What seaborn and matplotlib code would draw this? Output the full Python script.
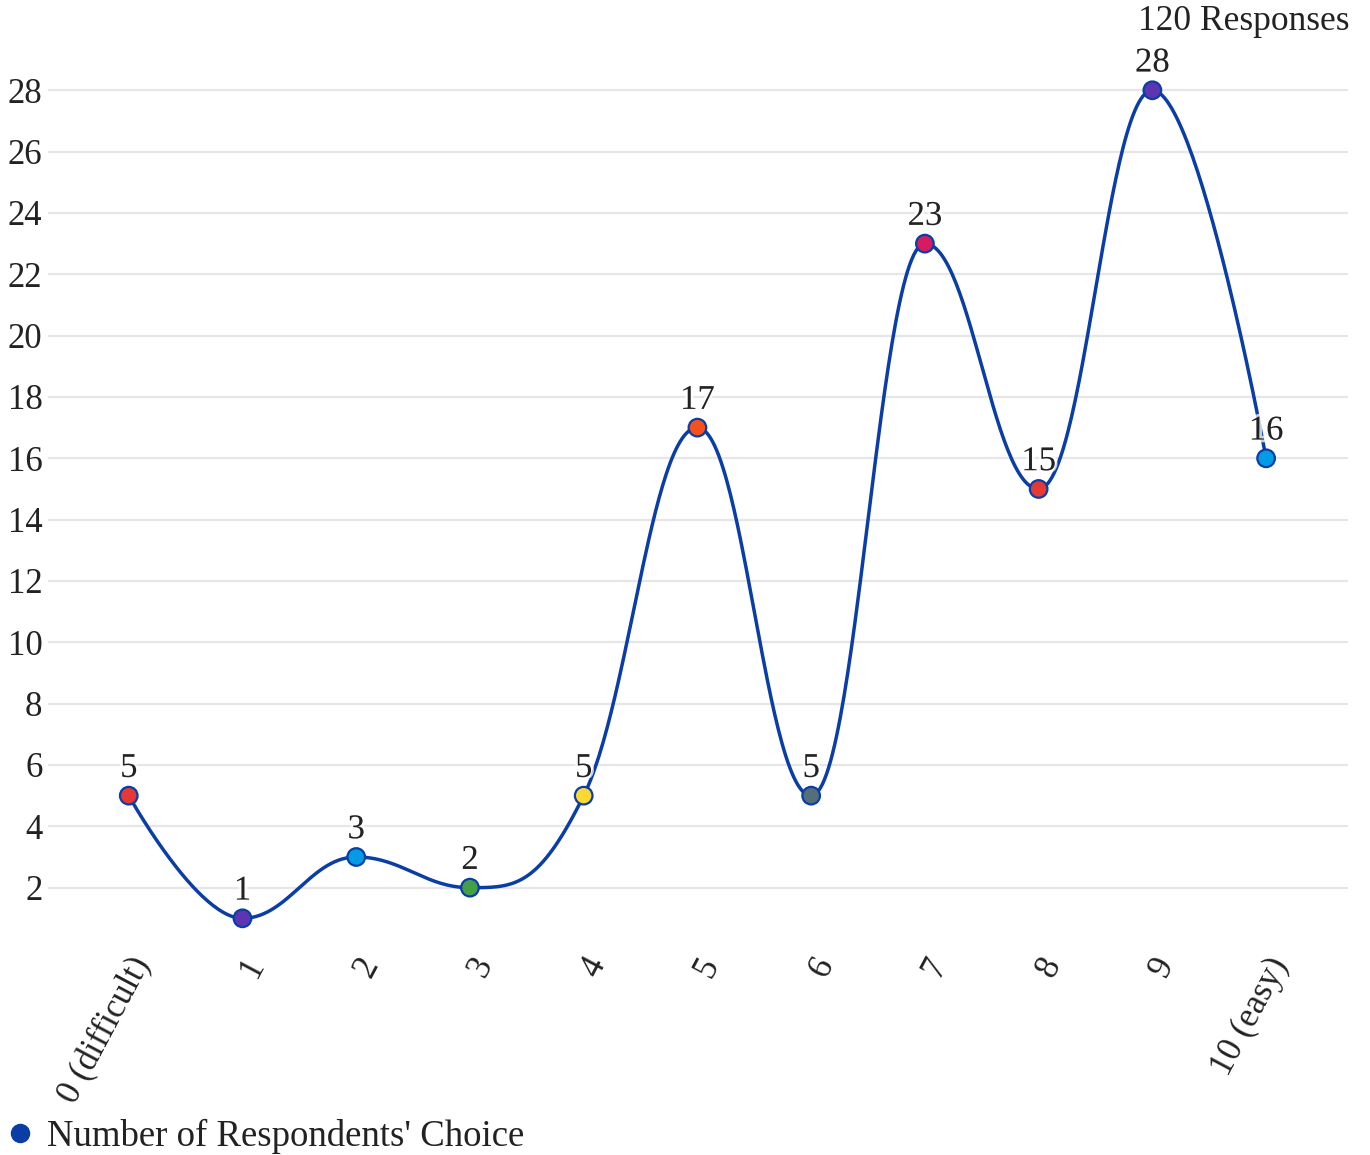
import numpy as np
import matplotlib
matplotlib.use("Agg")
import matplotlib.pyplot as plt
import matplotlib.patheffects as pe
from matplotlib.lines import Line2D
import seaborn as sns

# Survey data: how difficult respondents found the task (0 = difficult, 10 = easy)
categories = ["0 (difficult)", "1", "2", "3", "4", "5", "6", "7", "8", "9", "10 (easy)"]
counts = [5, 1, 3, 2, 5, 17, 5, 23, 15, 28, 16]
point_colors = ["#e53935", "#5e35b1", "#039be5", "#43a047", "#fdd835", "#f4511e",
                "#546e7a", "#d81b60", "#e53935", "#5e35b1", "#039be5"]
y_ticks = [2, 4, 6, 8, 10, 12, 14, 16, 18, 20, 22, 24, 26, 28]
total_label = "120 Responses"
series_name = "Number of Respondents' Choice"

LINE = "#0a3ea6"
GRID = "#e6e6e6"
TEXT = "#222222"
FS = 25

sns.set_theme(style="white")
plt.rcParams["font.family"] = ["Liberation Serif", "DejaVu Serif"]


def spline_path(xs, ys, smoothing=1.5, steps=60):
    """Smooth spline through the points, built from cubic Bezier segments."""
    n = len(xs)
    denom = smoothing + 1
    left = [(xs[i], ys[i]) for i in range(n)]
    right = [(xs[i], ys[i]) for i in range(n)]
    for i in range(1, n - 1):
        px, py = xs[i], ys[i]
        lx, ly = xs[i - 1], ys[i - 1]
        nx, ny = xs[i + 1], ys[i + 1]
        lcx = (smoothing * px + lx) / denom
        lcy = (smoothing * py + ly) / denom
        rcx = (smoothing * px + nx) / denom
        rcy = (smoothing * py + ny) / denom
        if rcx != lcx:
            corr = ((rcy - lcy) * (rcx - px)) / (rcx - lcx) + py - rcy
            lcy += corr
            rcy += corr
        if lcy > ly and lcy > py:
            lcy = max(ly, py)
            rcy = 2 * py - lcy
        elif lcy < ly and lcy < py:
            lcy = min(ly, py)
            rcy = 2 * py - lcy
        if rcy > ny and rcy > py:
            rcy = max(ny, py)
            lcy = 2 * py - rcy
        elif rcy < ny and rcy < py:
            rcy = min(ny, py)
            lcy = 2 * py - rcy
        left[i] = (lcx, lcy)
        right[i] = (rcx, rcy)
    t = np.linspace(0, 1, steps)
    out_x, out_y = [], []
    for i in range(n - 1):
        p0 = np.array([xs[i], ys[i]])
        p1 = np.array(right[i])
        p3 = np.array([xs[i + 1], ys[i + 1]])
        p2 = np.array(left[i + 1])
        seg = ((1 - t) ** 3)[:, None] * p0 + (3 * (1 - t) ** 2 * t)[:, None] * p1 \
            + (3 * (1 - t) * t ** 2)[:, None] * p2 + (t ** 3)[:, None] * p3
        out_x.extend(seg[:, 0])
        out_y.extend(seg[:, 1])
    return np.array(out_x), np.array(out_y)


positions = np.arange(len(categories))

fig = plt.figure(figsize=(13.7, 11.55), dpi=100)
ax = fig.add_axes([48 / 1370, 1 - 949 / 1155, 1300 / 1370, (949 - 32) / 1155])

cx, cy = spline_path(positions.astype(float), np.array(counts, dtype=float))
sns.lineplot(x=cx, y=cy, sort=False, estimator=None, color=LINE, linewidth=2.5,
             ax=ax, zorder=3)
sns.scatterplot(x=positions, y=counts, hue=categories, palette=point_colors,
                hue_order=categories, s=160, edgecolor=LINE, linewidth=1.6,
                legend=False, ax=ax, zorder=4)

halo = [pe.withStroke(linewidth=4, foreground=(1, 1, 1, 0.75))]
for xp, v in zip(positions, counts):
    ax.annotate(str(v), (xp, v), xytext=(0, 13.5), textcoords="offset points",
                ha="center", va="baseline", fontsize=FS, color=TEXT,
                path_effects=halo, zorder=5)

ax.set_xlim(-0.71, 10.72)
ax.set_ylim(0, 29.9)
ax.set_yticks(y_ticks)
ax.set_yticklabels([str(v) for v in y_ticks], fontsize=FS, color=TEXT)
ax.set_xticks(positions)
ax.set_xticklabels(categories, fontsize=FS, color=TEXT, rotation=62,
                   ha="right", va="top", rotation_mode="anchor")
ax.tick_params(axis="both", length=0, pad=4)
ax.tick_params(axis="x", pad=2)
ax.grid(axis="y", color=GRID, linewidth=1.6)
ax.grid(axis="x", visible=False)
for s in ax.spines.values():
    s.set_visible(False)
ax.set_xlabel("")
ax.set_ylabel("")

fig.text(1350 / 1370, 1 - 21 / 1155, total_label, ha="right", va="center",
         fontsize=FS + 0.5, color=TEXT)

handle = Line2D([], [], marker="o", linestyle="", markersize=13,
                markerfacecolor=LINE, markeredgecolor=LINE)
fig.legend([handle], [series_name], loc="lower left",
           bbox_to_anchor=(-0.0098, -0.0118), frameon=False, fontsize=FS + 1.5,
           handletextpad=0.25, borderaxespad=0.0, handlelength=1.0,
           labelcolor=TEXT)

fig.savefig("out.png", dpi=100)
